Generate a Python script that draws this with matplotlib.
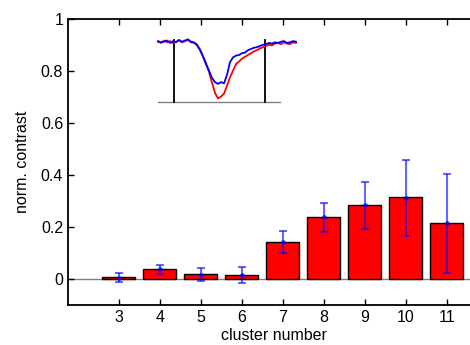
import numpy as np
import matplotlib
matplotlib.use("Agg")
from matplotlib import pyplot as plt

plt.rcParams['font.family'] = ['Liberation Sans', 'DejaVu Sans']

# bar chart data
clusters = [3, 4, 5, 6, 7, 8, 9, 10, 11]
contrast = [0.007, 0.037, 0.018, 0.014, 0.142, 0.237, 0.283, 0.314, 0.214]
err_mean = [0.005, 0.037, 0.017, 0.014, 0.141, 0.237, 0.283, 0.313, 0.214]
err_low = [0.018, 0.019, 0.023, 0.031, 0.042, 0.056, 0.091, 0.146, 0.191]
err_high = [0.018, 0.018, 0.024, 0.032, 0.042, 0.056, 0.091, 0.146, 0.191]

# inset trace (arbitrary time units, normalised signal)
trace_t = [3, 6, 9, 12, 15, 18, 21, 24, 27, 30, 33, 36, 39, 42, 45, 48,
           51, 54, 57, 60, 63, 66, 69, 72, 75, 78, 81, 84, 87, 90, 93, 96,
           99, 102, 105, 108, 111, 114, 117, 120, 123, 126, 129, 132, 135, 138, 141]
trace_red = [1.00, 0.98, 1.02, 0.99, 1.01, 0.97, 1.00, 1.02, 0.99, 1.01, 1.03, 0.99,
             0.98, 0.94, 0.86, 0.75, 0.62, 0.50, 0.32, 0.15, 0.06, 0.09, 0.14, 0.27,
             0.41, 0.52, 0.63, 0.67, 0.72, 0.75, 0.78, 0.81, 0.84, 0.86, 0.89, 0.91,
             0.93, 0.95, 0.94, 0.97, 0.98, 0.96, 0.99, 0.97, 0.96, 0.99, 0.98]
trace_blue = [1.01, 0.99, 1.00, 1.02, 0.98, 1.01, 0.99, 1.03, 1.00, 1.02, 1.04, 1.00,
              0.99, 0.95, 0.87, 0.76, 0.64, 0.52, 0.40, 0.33, 0.30, 0.33, 0.31, 0.45,
              0.66, 0.74, 0.77, 0.78, 0.81, 0.82, 0.86, 0.88, 0.90, 0.91, 0.93, 0.95,
              0.96, 0.98, 0.97, 0.99, 0.98, 1.00, 1.01, 0.98, 0.99, 1.01, 1.00]
marker_t = [19, 110]

fig = plt.figure(figsize=(4.7, 3.45), dpi=100)
# right edge of the box falls outside the picture, as in the original
ax = fig.add_axes([68 / 470, 1 - 305 / 345, 412 / 470, 286 / 345])

ax.axhline(0, color='#808080', lw=1, zorder=1)
ax.bar(clusters, contrast, width=0.8, color='red', edgecolor='black', lw=1, zorder=2)
ax.errorbar(clusters, err_mean, yerr=[err_low, err_high], fmt='.', color='blue',
            alpha=0.6, ms=5, capsize=3, elinewidth=1.5, capthick=1.5, zorder=3)

ax.set_xlim(1.76, 11.81)
ax.set_ylim(-0.1, 1)
ax.set_xticks(clusters)
ax.set_yticks([0, 0.2, 0.4, 0.6, 0.8, 1])
ax.set_yticklabels(['0', '0.2', '0.4', '0.6', '0.8', '1'])
ax.tick_params(direction='in', length=4, width=1, top=True, right=True, labelsize=11.5)
for s in ax.spines.values():
    s.set_linewidth(1.3)
ax.set_xlabel('cluster number', fontsize=11.5, labelpad=2)
ax.set_ylabel('norm. contrast', fontsize=11.5, labelpad=8)

# inset with the traces
ins = fig.add_axes([155 / 470, 1 - 104 / 345, 145 / 470, 68 / 345])
ins.axis('off')
ins.set_xlim(0, 145)
ins.set_ylim(-0.033, 1.095)
ins.plot([3, 125], [0, 0], color='#808080', lw=1)
for t in marker_t:
    ins.plot([t, t], [0, 1.03], color='black', lw=1.3)
ins.plot(trace_t, trace_red, color='red', lw=1.3)
ins.plot(trace_t, trace_blue, color='blue', lw=1.3)

fig.savefig('out.png', dpi=100)
